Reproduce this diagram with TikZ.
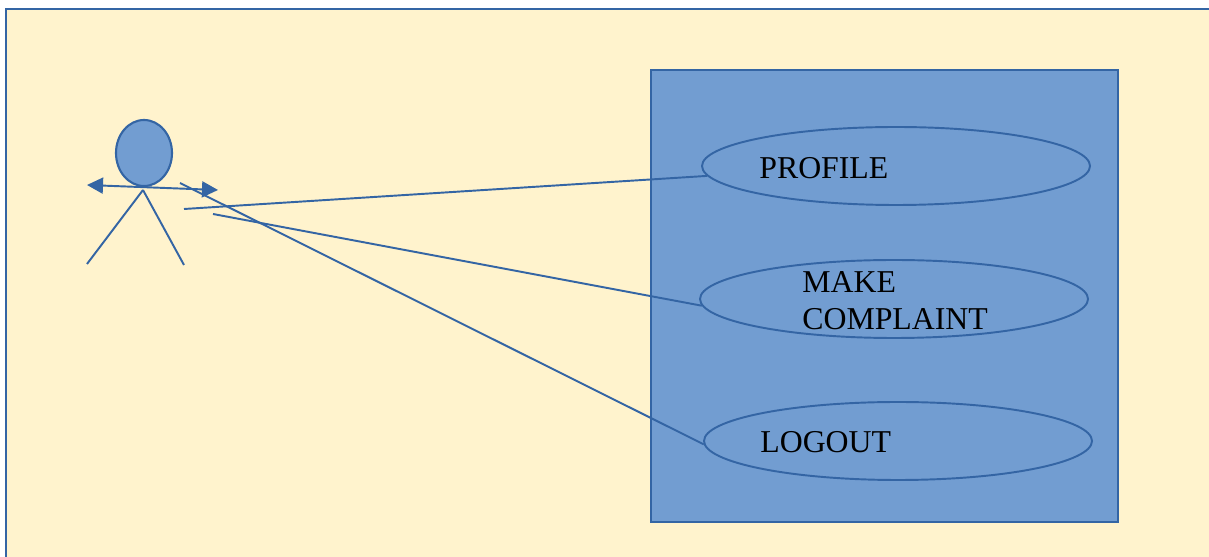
\documentclass[tikz,border=0pt]{standalone}
\usepackage{fontspec}
\setmainfont{Liberation Serif}
\usetikzlibrary{shapes,arrows.meta}
\definecolor{paper}{HTML}{FFF3CD}
\definecolor{umlblue}{HTML}{729DD1}
\definecolor{umlline}{HTML}{3465A4}
\tikzset{
  usecase/.style={shape=ellipse, draw=umlline, line width=1.1pt, minimum width=7.76cm, minimum height=1.56cm, inner sep=0pt},
  caselabel/.style={anchor=west, inner sep=0pt, align=left, font=\fontsize{18.1}{21}\selectfont},
  wire/.style={draw=umlline, line width=1.1pt}
}
\begin{document}
\begin{tikzpicture}
\useasboundingbox (0,0) rectangle (24.18,11.14);
\fill [white] (0,0) rectangle (24.18,11.14);
\draw [fill=paper, draw=umlline, line width=1.2pt] (0.12,-0.5) rectangle (24.7,10.96);

\node (system) at (17.69,5.22) [shape=rectangle, draw=umlline, fill=umlblue, line width=1.1pt, minimum width=9.34cm, minimum height=9.04cm] {};
\node (profile) at (17.92,7.82) [usecase] {};
\node (complaint) at (17.88,5.16) [usecase] {};
\node (logout) at (17.96,2.32) [usecase] {};
\node (profiletext) at (15.18,7.78) [caselabel] {PROFILE};
\node (complainttext) at (16.04,5.12) [caselabel] {MAKE\\COMPLAINT};
\node (logouttext) at (15.20,2.30) [caselabel] {LOGOUT};

% actor
\node (head) at (2.88,8.08) [shape=ellipse, draw=umlline, fill=umlblue, line width=1.2pt, minimum width=1.12cm, minimum height=1.32cm, inner sep=0pt] {};
\coordinate (handl) at (1.74,7.44);
\coordinate (handr) at (4.36,7.34);
\coordinate (hip) at (2.86,7.34);
\coordinate (footl) at (1.74,5.86);
\coordinate (footr) at (3.68,5.84);
\draw [wire, {Triangle[length=0.32cm,width=0.32cm]}-{Triangle[length=0.32cm,width=0.32cm]}] (handl) -- (handr);
\draw [wire] (hip) -- (footl);
\draw [wire] (hip) -- (footr);

% links
\coordinate (startp) at (3.68,6.96);
\coordinate (startc) at (4.26,6.86);
\coordinate (startl) at (3.60,7.48);
\draw [wire] (startp) -- (profile.183);
\draw [wire] (startc) -- (complaint.182);
\draw [wire] (startl) -- (logout.181);
\end{tikzpicture}
\end{document}
